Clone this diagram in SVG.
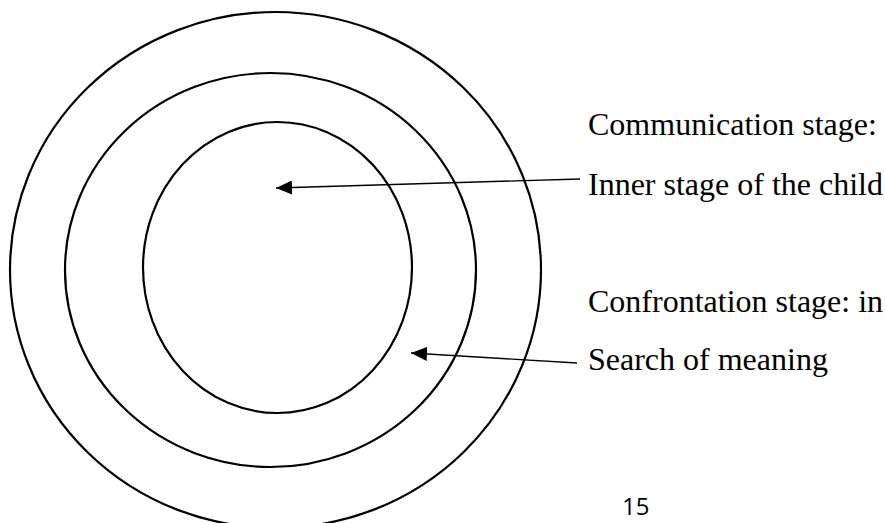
<svg xmlns="http://www.w3.org/2000/svg" width="885" height="523" viewBox="0 0 885 523">
<style>
.ring{fill:none;stroke:#000;stroke-width:2.2}
.conn{fill:none;stroke:#000;stroke-width:1.4}
.lbl{font-family:"Liberation Serif","Times New Roman",serif;font-size:32px;fill:#000}
.pg{font-family:"Open Sans","Liberation Sans",sans-serif;font-size:24px;fill:#000}
</style>
<defs>
<marker id="ah" viewBox="0 0 16 14" refX="16" refY="7" markerWidth="16" markerHeight="14" markerUnits="userSpaceOnUse" orient="auto">
<path d="M0,0 L16,7 L0,14 Z" fill="#000"/>
</marker>
</defs>
<rect width="885" height="523" fill="#fff"/>
<g id="outer-ring"><ellipse class="ring" cx="275.5" cy="270" rx="265.5" ry="258"/></g>
<g id="middle-ring"><ellipse class="ring" cx="270.5" cy="270" rx="205.5" ry="197"/></g>
<g id="inner-ring"><ellipse class="ring" cx="277.5" cy="267.5" rx="134.5" ry="145.5"/></g>
<g id="connectors">
<path class="conn" d="M580,179 L276,188" marker-end="url(#ah)"/>
<path class="conn" d="M577,363 L411,353" marker-end="url(#ah)"/>
</g>
<g id="label-communication"><text class="lbl" x="588" y="135">Communication stage:</text></g>
<g id="label-inner"><text class="lbl" x="588" y="195">Inner stage of the child</text></g>
<g id="label-confrontation"><text class="lbl" x="588" y="312">Confrontation stage: in</text></g>
<g id="label-search"><text class="lbl" x="588" y="370">Search of meaning</text></g>
<g id="page-number"><text class="pg" x="622" y="515">15</text></g>
</svg>
